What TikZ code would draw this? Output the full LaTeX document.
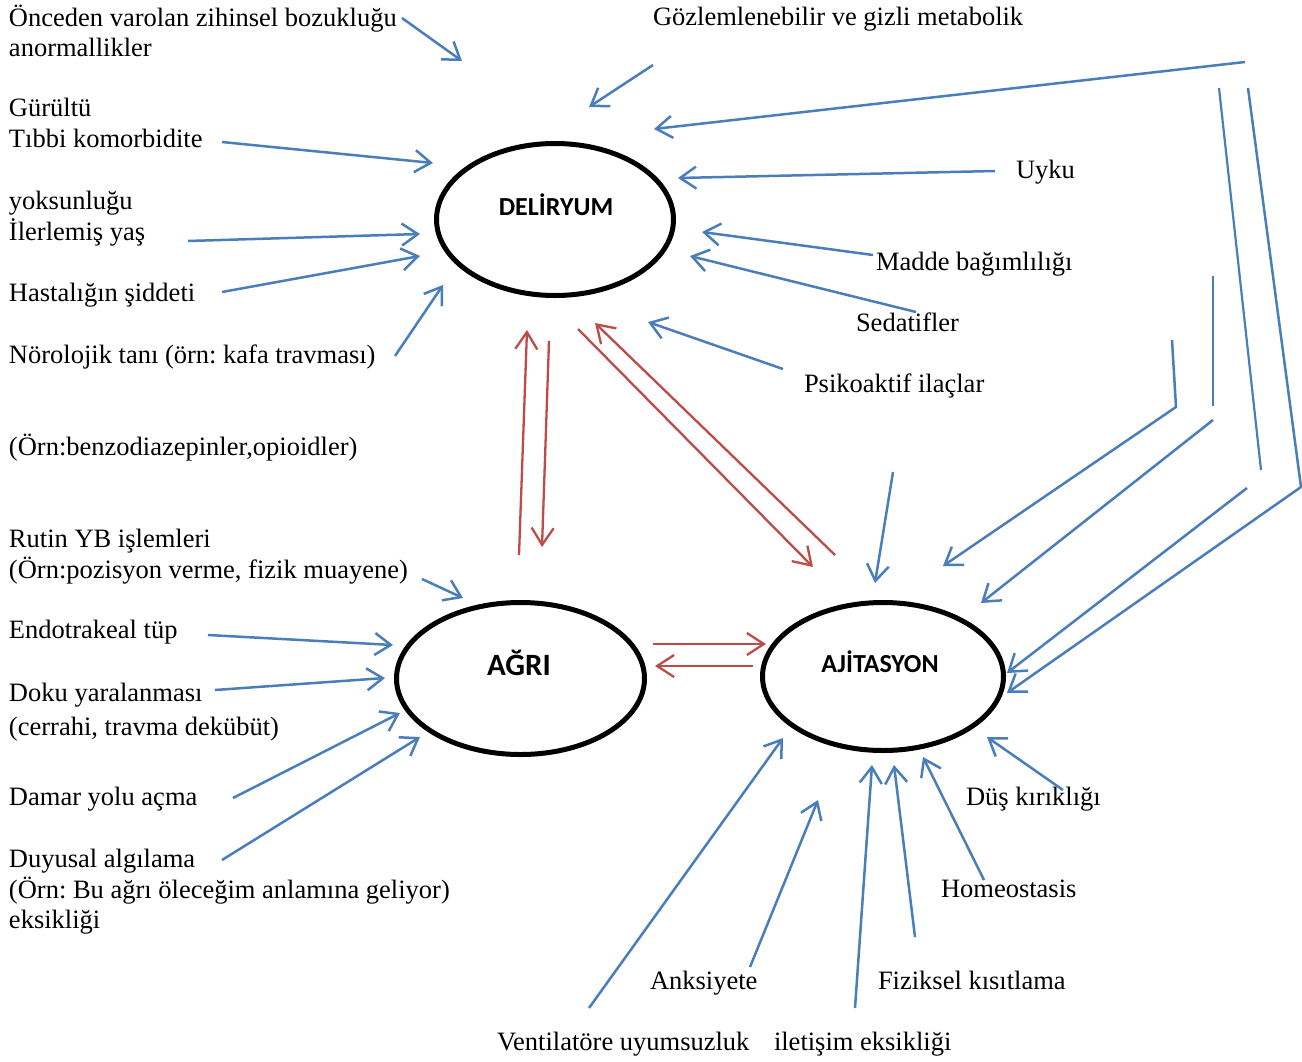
\documentclass[tikz,border=0pt]{standalone}
\usepackage{fontspec}
\setmainfont{Liberation Serif}
\newfontfamily\lblfont{Carlito}
\usetikzlibrary{arrows.meta,shapes.geometric}
\definecolor{bl}{HTML}{4A7EBB}
\definecolor{rd}{HTML}{BE4B48}
\frenchspacing
\begin{document}
\begin{tikzpicture}[x=1pt,y=-1pt,
  txt/.style={anchor=base west, inner sep=0pt, outer sep=0pt, font=\fontsize{26.5}{31}\selectfont},
  ell/.style={draw, line width=5pt, ellipse, inner sep=0pt},
  lbl/.style={inner sep=0pt, font=\lblfont\bfseries\fontsize{26}{30}\selectfont},
  barrow/.style={draw=bl, line width=2.5pt, -{Straight Barb[length=16pt,width=22pt]}},
  rarrow/.style={draw=rd, line width=2.3pt, -{Straight Barb[length=17pt,width=22pt]}},
  bline/.style={draw=bl, line width=2.2pt},
]
\useasboundingbox[fill=white] (0,0) rectangle (1302,1061);

% ellipses
\node[ell, minimum width=237pt, minimum height=152pt] (del) at (555,219.5) {};
\node[ell, minimum width=248pt, minimum height=152pt] (agri) at (520.5,678.5) {};
\node[ell, minimum width=241pt, minimum height=148pt] (ajt) at (883,676.5) {};
\node[lbl] (delT) at (556,205) {DELİRYUM};
\node[lbl, font=\lblfont\bfseries\fontsize{31}{36}\selectfont] (agriT) at (519,663) {AĞRI};
\node[lbl] (ajtT) at (880,662) {AJİTASYON};

% left texts
\node[txt] (t1) at (9,26) {Önceden varolan zihinsel bozukluğu};
\node[txt] (t2) at (9,56) {anormallikler};
\node[txt] (t3) at (9,116) {Gürültü};
\node[txt] (t4) at (9,147) {Tıbbi komorbidite};
\node[txt] (t5) at (9,209) {yoksunluğu};
\node[txt] (t6) at (9,240) {İlerlemiş yaş};
\node[txt] (t7) at (9,301) {Hastalığın şiddeti};
\node[txt] (t8) at (9,363) {Nörolojik tanı (örn: kafa travması)};
\node[txt] (t9) at (9,455) {(Örn:benzodiazepinler,opioidler)};
\node[txt] (t10) at (9,547) {Rutin YB işlemleri};
\node[txt] (t11) at (9,578) {(Örn:pozisyon verme, fizik muayene)};
\node[txt] (t12) at (9,638) {Endotrakeal tüp};
\node[txt] (t13) at (9,701) {Doku yaralanması};
\node[txt] (t14) at (9,735) {(cerrahi, travma dekübüt)};
\node[txt] (t15) at (9,805) {Damar yolu açma};
\node[txt] (t16) at (9,867) {Duyusal algılama};
\node[txt] (t17) at (9,898) {(Örn: Bu ağrı öleceğim anlamına geliyor)};
\node[txt] (t18) at (9,928) {eksikliği};

% right / bottom texts
\node[txt] (r1) at (653,25) {Gözlemlenebilir ve gizli metabolik};
\node[txt] (r2) at (1016,178) {Uyku};
\node[txt] (r3) at (876,270) {Madde bağımlılığı};
\node[txt] (r4) at (856,331) {Sedatifler};
\node[txt] (r5) at (804,392) {Psikoaktif ilaçlar};
\node[txt] (r6) at (966,805) {Düş kırıklığı};
\node[txt] (r7) at (941,897) {Homeostasis};
\node[txt] (r8) at (878,989) {Fiziksel kısıtlama};
\node[txt] (r9) at (650,989) {Anksiyete};
\node[txt] (r10) at (497,1050) {Ventilatöre uyumsuzluk};
\node[txt] (r11) at (774,1050) {iletişim eksikliği};

% coordinates: DELİRYUM inputs
\coordinate (d1s) at (402,18);   \coordinate (d1e) at (462,61);
\coordinate (d2s) at (653,65);   \coordinate (d2e) at (589,107);
\coordinate (d3s) at (1245,62);  \coordinate (d3e) at (654,129);
\coordinate (d4s) at (222,142);  \coordinate (d4e) at (433,163);
\coordinate (d5s) at (188,241);  \coordinate (d5e) at (420,234);
\coordinate (d6s) at (222,292);  \coordinate (d6e) at (420,256);
\coordinate (d7s) at (395,356);  \coordinate (d7e) at (443,285);
\coordinate (d8s) at (995,171);  \coordinate (d8e) at (678,178);
\coordinate (d9s) at (873,255);  \coordinate (d9e) at (702,232);
\coordinate (d10s) at (916,312); \coordinate (d10e) at (690,256);
\coordinate (d11s) at (783,369); \coordinate (d11e) at (648,322);
% red
\coordinate (q1s) at (519,555);  \coordinate (q1e) at (527,330);
\coordinate (q2s) at (549,341);  \coordinate (q2e) at (542,547);
\coordinate (q3s) at (578,329);  \coordinate (q3e) at (813,567);
\coordinate (q4s) at (835,555);  \coordinate (q4e) at (595,323);
\coordinate (q5s) at (653,644);  \coordinate (q5e) at (766,644);
\coordinate (q6s) at (753,666);  \coordinate (q6e) at (655,666);
% AĞRI inputs
\coordinate (a1s) at (422,579);  \coordinate (a1e) at (463,598);
\coordinate (a2s) at (208,635);  \coordinate (a2e) at (393,645);
\coordinate (a3s) at (215,690);  \coordinate (a3e) at (385,678);
\coordinate (a4s) at (233,798);  \coordinate (a4e) at (400,713);
\coordinate (a5s) at (222,860);  \coordinate (a5e) at (420,737);
% AJİTASYON inputs
\coordinate (j1s) at (893,472);  \coordinate (j1e) at (875,583);
\coordinate (j2s) at (1172,340); \coordinate (j2m) at (1176,407); \coordinate (j2e) at (943,566);
\coordinate (j3s) at (1213,276); \coordinate (j3m) at (1213,406);
\coordinate (j3b) at (1213,420); \coordinate (j3e) at (981,603);
\coordinate (j4s) at (1219,88);  \coordinate (j4m) at (1261,470);
\coordinate (j4b) at (1247,488); \coordinate (j4e) at (1007,673);
\coordinate (j5s) at (1248,88);  \coordinate (j5m) at (1301,487); \coordinate (j5e) at (1007,693);
\coordinate (j6s) at (589,1008); \coordinate (j6e) at (783,738);
\coordinate (j7s) at (750,967);  \coordinate (j7e) at (818,800);
\coordinate (j8s) at (855,1008); \coordinate (j8e) at (872,765);
\coordinate (j9s) at (915,937);  \coordinate (j9e) at (894,765);
\coordinate (j10s) at (984,880); \coordinate (j10e) at (923,757);
\coordinate (j11s) at (1063,790);\coordinate (j11e) at (987,737);

% blue arrows
\draw[barrow] (d1s) -- (d1e);
\draw[barrow] (d2s) -- (d2e);
\draw[barrow] (d3s) -- (d3e);
\draw[barrow] (d4s) -- (d4e);
\draw[barrow] (d5s) -- (d5e);
\draw[barrow] (d6s) -- (d6e);
\draw[barrow] (d7s) -- (d7e);
\draw[barrow] (d8s) -- (d8e);
\draw[barrow] (d9s) -- (d9e);
\draw[barrow] (d10s) -- (d10e);
\draw[barrow] (d11s) -- (d11e);
\draw[barrow] (a1s) -- (a1e);
\draw[barrow] (a2s) -- (a2e);
\draw[barrow] (a3s) -- (a3e);
\draw[barrow] (a4s) -- (a4e);
\draw[barrow] (a5s) -- (a5e);
\draw[barrow] (j1s) -- (j1e);
\draw[barrow] (j2s) -- (j2m) -- (j2e);
\draw[bline] (j3s) -- (j3m);
\draw[barrow] (j3b) -- (j3e);
\draw[bline] (j4s) -- (j4m);
\draw[barrow] (j4b) -- (j4e);
\draw[barrow] (j5s) -- (j5m) -- (j5e);
\draw[barrow] (j6s) -- (j6e);
\draw[barrow] (j7s) -- (j7e);
\draw[barrow] (j8s) -- (j8e);
\draw[barrow] (j9s) -- (j9e);
\draw[barrow] (j10s) -- (j10e);
\draw[barrow] (j11s) -- (j11e);

% red arrows
\draw[rarrow] (q1s) -- (q1e);
\draw[rarrow] (q2s) -- (q2e);
\draw[rarrow] (q3s) -- (q3e);
\draw[rarrow] (q4s) -- (q4e);
\draw[rarrow] (q5s) -- (q5e);
\draw[rarrow] (q6s) -- (q6e);
\end{tikzpicture}
\end{document}
